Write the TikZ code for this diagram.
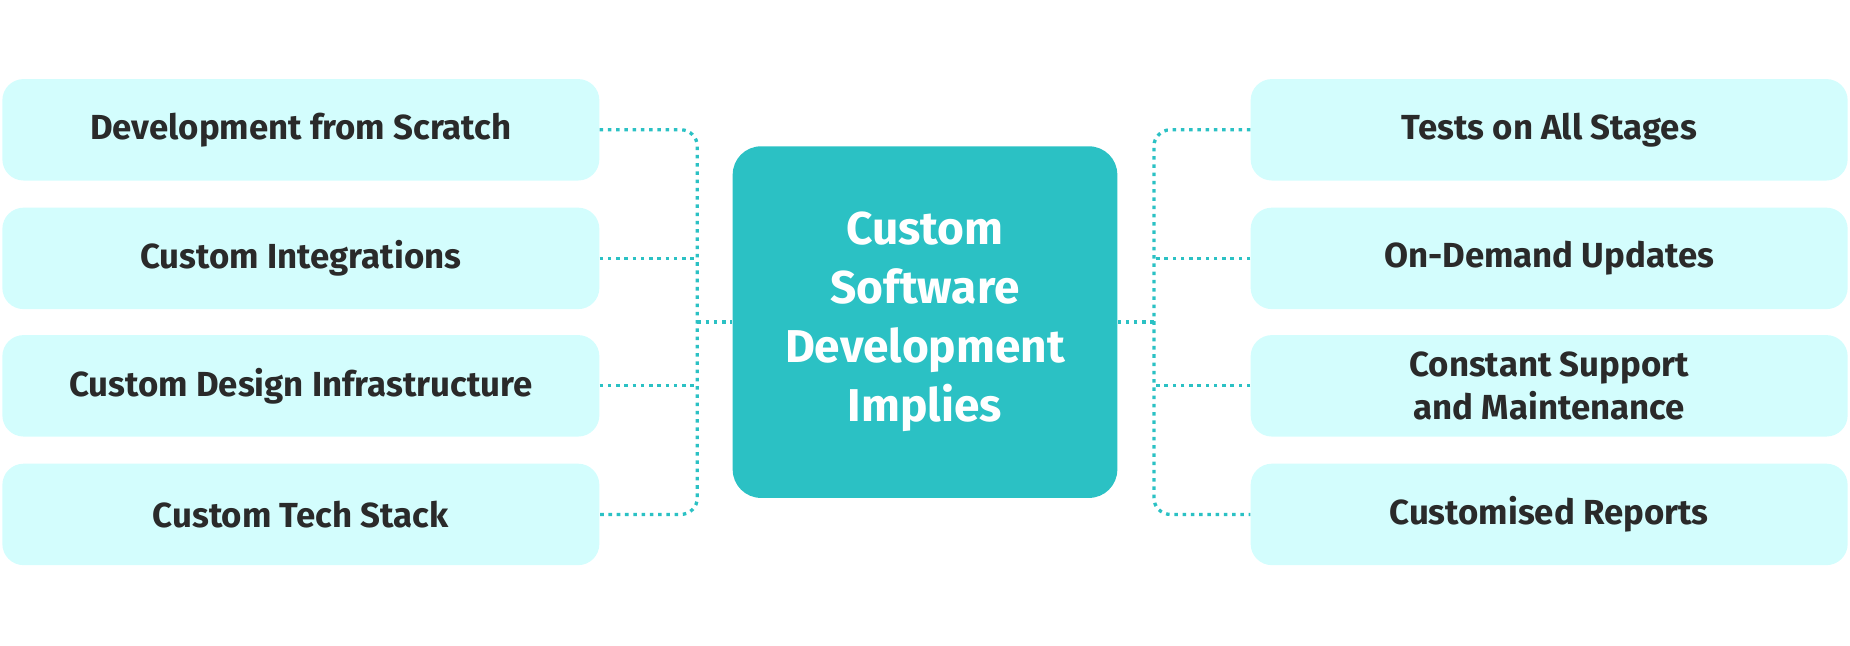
\documentclass[tikz,border=0pt]{standalone}
\usepackage{fontspec}
\setmainfont{Fira Sans}
\begin{document}
\begin{tikzpicture}[x=1pt,y=-1pt,
  leaf/.style={fill=leafc,rounded corners=18pt,minimum width=506pt,minimum height=86pt,inner sep=0pt,align=center,font=\fontsize{29.5}{37}\selectfont\bfseries,text=txt},
  hub/.style={fill=hubc,rounded corners=24pt,minimum width=326pt,minimum height=298pt,align=center,font=\fontsize{39}{50}\selectfont\bfseries,text=white},
  link/.style={draw=hubc,line width=2.8pt,dash pattern=on 3pt off 4pt,rounded corners=14pt}]
\definecolor{leafc}{HTML}{D3FDFD}
\definecolor{hubc}{HTML}{2BC1C4}
\definecolor{txt}{HTML}{2A2A2A}
\useasboundingbox (0,0) rectangle (1568,547);
\node[hub] (c) at (784,273) {Custom\\Software\\Development\\Implies};
\node[leaf] (l1) at (255,110) {Development from Scratch};
\node[leaf] (l2) at (255,219) {Custom Integrations};
\node[leaf] (l3) at (255,327) {Custom Design Infrastructure};
\node[leaf] (l4) at (255,436) {Custom Tech Stack};
\node[leaf] (r1) at (1313,110) {Tests on All Stages};
\node[leaf] (r2) at (1313,219) {On-Demand Updates};
\node[leaf] (r3) at (1313,327) {Constant Support\\and Maintenance};
\node[leaf] (r4) at (1313,436) {Customised Reports};
\coordinate (lj) at (591,273);
\coordinate (rj) at (978,273);
\draw[link] (l1.east) -| (lj) |- (l4.east);
\draw[link] (l2.east) -- (l2.east -| lj);
\draw[link] (l3.east) -- (l3.east -| lj);
\draw[link] (lj) -- (c.west);
\draw[link] (r1.west) -| (rj) |- (r4.west);
\draw[link] (r2.west) -- (r2.west -| rj);
\draw[link] (r3.west) -- (r3.west -| rj);
\draw[link] (rj) -- (c.east);
\end{tikzpicture}
\end{document}
